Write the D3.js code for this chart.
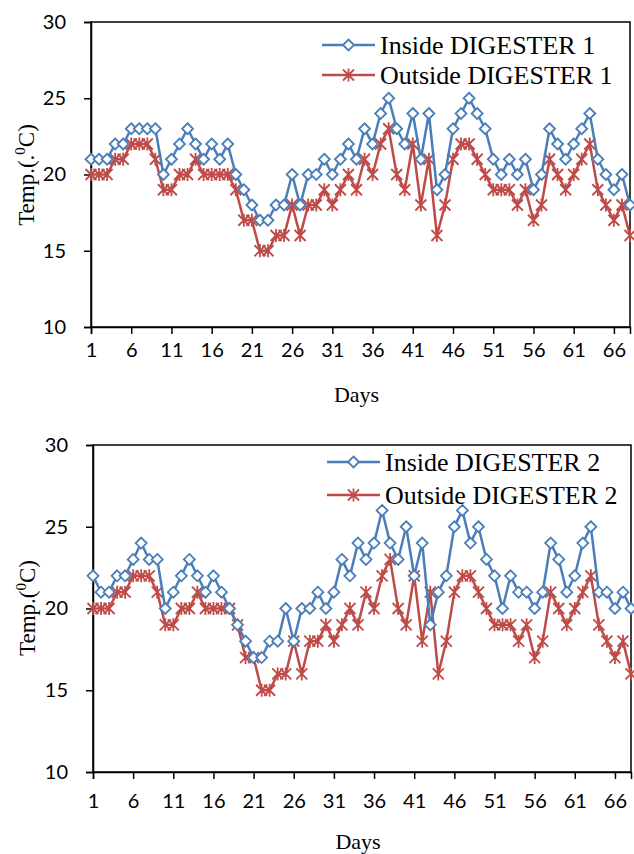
<!DOCTYPE html>
<html>
<head>
<meta charset="utf-8">
<script src="https://cdn.jsdelivr.net/npm/d3@7"></script>
<style>
  body { margin: 0; background: #fff; }
  .tick text { font-family: Lato, "Open Sans", sans-serif; font-size: 20px; fill: #000; }
  .ttl { font-family: "Liberation Serif", "DejaVu Serif", serif; fill: #000; }
</style>
</head>
<body>
<div id="chart"></div>
<script>
// days on the category axis
var days = d3.range(1, 69)
var xTickDays = [1, 6, 11, 16, 21, 26, 31, 36, 41, 46, 51, 56, 61, 66]
var yTicks = [10, 15, 20, 25, 30]

// digester 1
var inside1 = [21, 21, 21, 22, 22, 23, 23, 23, 23, 20, 21, 22, 23, 22, 21, 22, 21, 22, 20, 19,
  18, 17, 17, 18, 18, 20, 18, 20, 20, 21, 20, 21, 22, 21, 23, 22, 24, 25, 23, 22,
  24, 21, 24, 19, 20, 23, 24, 25, 24, 23, 21, 20, 21, 20, 21, 19, 20, 23, 22, 21,
  22, 23, 24, 21, 20, 19, 20, 18]
var outside1 = [20, 20, 20, 21, 21, 22, 22, 22, 21, 19, 19, 20, 20, 21, 20, 20, 20, 20, 19, 17,
  17, 15, 15, 16, 16, 18, 16, 18, 18, 19, 18, 19, 20, 19, 21, 20, 22, 23, 20, 19,
  22, 18, 21, 16, 18, 21, 22, 22, 21, 20, 19, 19, 19, 18, 19, 17, 18, 21, 20, 19,
  20, 21, 22, 19, 18, 17, 18, 16]

// digester 2
var inside2 = [22, 21, 21, 22, 22, 23, 24, 23, 23, 20, 21, 22, 23, 22, 21, 22, 21, 20, 19, 18,
  17, 17, 18, 18, 20, 18, 20, 20, 21, 20, 21, 23, 22, 24, 23, 24, 26, 24, 23, 25,
  22, 24, 19, 21, 22, 25, 26, 24, 25, 23, 22, 20, 22, 21, 21, 20, 21, 24, 23, 21,
  22, 24, 25, 21, 21, 20, 21, 20]
var outside2 = [20, 20, 20, 21, 21, 22, 22, 22, 21, 19, 19, 20, 20, 21, 20, 20, 20, 20, 19, 17,
  17, 15, 15, 16, 16, 18, 16, 18, 18, 19, 18, 19, 20, 19, 21, 20, 22, 23, 20, 19,
  22, 18, 21, 16, 18, 21, 22, 22, 21, 20, 19, 19, 19, 18, 19, 17, 18, 21, 20, 19,
  20, 21, 22, 19, 18, 17, 18, 16]

var blue = '#4A7EBB'
var red = '#BE4B48'

var svg = d3.select('#chart')
  .append('svg')
  .attr('width', 634)
  .attr('height', 854)

function drawPanel (p) {
  var x = d3.scaleLinear().domain([1, 68]).range([p.left, p.right])
  var y = d3.scaleLinear().domain([10, 30]).range([p.bottom, p.top])

  var g = svg.append('g')

  // plot area border
  g.append('rect')
    .attr('x', p.left).attr('y', p.top)
    .attr('width', p.right - p.left).attr('height', p.bottom - p.top)
    .attr('fill', 'none').attr('stroke', '#000').attr('stroke-width', 1.5)

  // y axis
  var yAxis = g.append('g')
    .attr('transform', 'translate(' + p.left + ',0)')
    .call(d3.axisLeft(y).tickValues(yTicks).tickSize(7).tickPadding(18))
  yAxis.select('.domain').attr('stroke-width', 1.5)
  yAxis.selectAll('.tick line').attr('stroke-width', 1.5)

  // x axis
  var xAxis = g.append('g')
    .attr('transform', 'translate(0,' + p.bottom + ')')
    .call(d3.axisBottom(x).tickValues(xTickDays).tickFormat(d3.format('d')).tickSize(7).tickPadding(p.xPad))
  xAxis.select('.domain').attr('stroke-width', 1.5)
  xAxis.selectAll('.tick line').attr('stroke-width', 1.5)

  // titles
  g.append('text').attr('class', 'ttl')
    .attr('x', (p.left + p.right) / 2 - 4).attr('y', p.daysY)
    .attr('text-anchor', 'middle').attr('font-size', 22)
    .text('Days')

  var yt = g.append('text').attr('class', 'ttl')
    .attr('transform', 'translate(' + p.ytX + ',' + p.ytY + ') rotate(-90)')
    .attr('text-anchor', 'middle').attr('font-size', 23)
  yt.append('tspan').text(p.ytPre)
  yt.append('tspan').attr('font-size', 15).attr('dy', -9).text('0')
  yt.append('tspan').attr('dy', 9).text('C)')

  var line = d3.line()
    .x(function (d, i) { return x(days[i]) })
    .y(function (d) { return y(d) })

  // outside (red, star)
  g.append('path').datum(p.outside)
    .attr('d', line).attr('fill', 'none').attr('stroke', red).attr('stroke-width', 2.5)
  g.selectAll('.star')
    .data(p.outside)
    .enter()
    .append('path')
    .attr('class', 'star')
    .attr('transform', function (d, i) { return 'translate(' + x(days[i]) + ',' + y(d) + ')' })
    .attr('d', 'M-5.5,-5.5L5.5,5.5M-5.5,5.5L5.5,-5.5M0,-6.5L0,6.5')
    .attr('stroke', red).attr('stroke-width', 1.8).attr('fill', 'none')

  // inside (blue, diamond)
  g.append('path').datum(p.inside)
    .attr('d', line).attr('fill', 'none').attr('stroke', blue).attr('stroke-width', 2.5)
  g.selectAll('.dia')
    .data(p.inside)
    .enter()
    .append('path')
    .attr('class', 'dia')
    .attr('transform', function (d, i) { return 'translate(' + x(days[i]) + ',' + y(d) + ')' })
    .attr('d', 'M0,-5.5L5.5,0L0,5.5L-5.5,0Z')
    .attr('stroke', blue).attr('stroke-width', 1.8).attr('fill', '#fff')

  // legend
  var items = [
    { name: p.names[0], color: blue, mark: 'M0,-5.5L5.5,0L0,5.5L-5.5,0Z', fill: '#fff' },
    { name: p.names[1], color: red, mark: 'M-5.5,-5.5L5.5,5.5M-5.5,5.5L5.5,-5.5M0,-6.5L0,6.5', fill: 'none' }
  ]
  items.forEach(function (it, i) {
    var ly = p.legY[i]
    g.append('line')
      .attr('x1', p.legX).attr('x2', p.legX + 53)
      .attr('y1', ly).attr('y2', ly)
      .attr('stroke', it.color).attr('stroke-width', 2.5)
    g.append('path')
      .attr('transform', 'translate(' + (p.legX + 26.5) + ',' + ly + ')')
      .attr('d', it.mark).attr('stroke', it.color).attr('stroke-width', 1.8).attr('fill', it.fill)
    g.append('text').attr('class', 'ttl')
      .attr('x', p.legX + 58).attr('y', ly + 8.5)
      .attr('font-size', 26)
      .text(it.name)
  })
}

drawPanel({
  left: 91, right: 630, top: 22, bottom: 327, xPad: 9,
  inside: inside1, outside: outside1,
  names: ['Inside DIGESTER 1', 'Outside DIGESTER 1'],
  legX: 322, legY: [45, 75],
  daysY: 402, ytX: 34, ytY: 175, ytPre: 'Temp.(.'
})

drawPanel({
  left: 93, right: 631, top: 445, bottom: 772, xPad: 15,
  inside: inside2, outside: outside2,
  names: ['Inside DIGESTER 2', 'Outside DIGESTER 2'],
  legX: 327, legY: [462, 495],
  daysY: 849, ytX: 35, ytY: 608, ytPre: 'Temp.('
})
</script>
</body>
</html>
